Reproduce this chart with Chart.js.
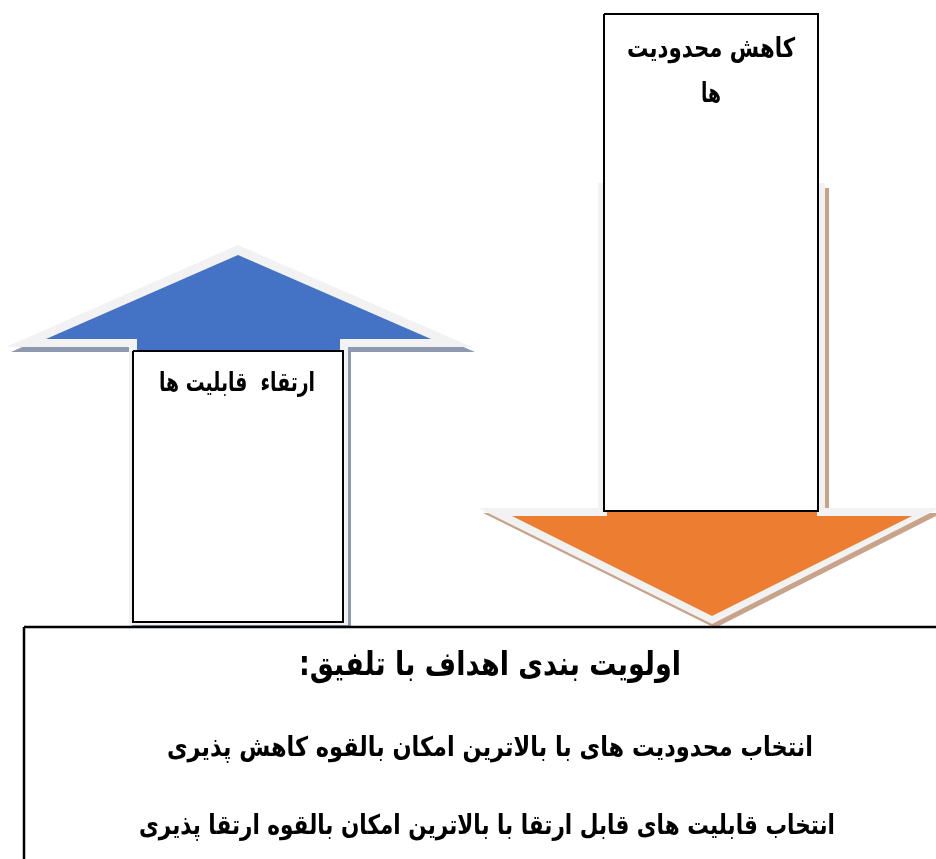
<!DOCTYPE html>
<html>
<head>
<meta charset="utf-8">
<script src="https://cdn.jsdelivr.net/npm/chart.js@4.4.0/dist/chart.umd.min.js"></script>
<style>
  html, body { margin: 0; padding: 0; background: #fff; }
  #wrap { width: 936px; height: 859px; }
</style>
</head>
<body>
<div id="wrap"><canvas id="diagram" width="936" height="859"></canvas></div>
<script>
// shapes of the diagram, in page units (x right, y down)
const upArrowShadow = [[241,250],[475,352],[351,352],[351,628],[132,628],[132,352],[11,352]];
const upArrowOutline = [[238,245],[472,347],[348,347],[348,625],[129,625],[129,347],[6,347]];
const upArrowFill = [[238,255],[431,339],[340,339],[340,420],[137,420],[137,339],[46,339]];
const upArrowBox = [[133,351],[343,351],[343,622],[133,622]];

const downArrowShadow = [[601,188],[829,188],[829,513],[942,513],[715,628],[483,513],[601,513]];
const downArrowOutline = [[598,183],[825,183],[825,508],[940,508],[712,624],[478,508],[598,508]];
const downArrowFill = [[607,480],[817,480],[817,516],[912,516],[712,616],[512,516],[607,516]];
const downArrowBox = [[604,14],[818,14],[818,511],[604,511]];

const goalBox = [[24,627],[945,627],[945,870],[24,870]];

// texts
const downLabel = ['کاهش محدودیت', 'ها'];
const upLabel = ['ارتقاء  قابلیت ها'];
const goalTitle = 'اولویت بندی اهداف با تلفیق:';
const goalLines = [
  'انتخاب محدودیت های با بالاترین امکان بالقوه کاهش پذیری',
  'انتخاب قابلیت های قابل ارتقا با بالاترین امکان بالقوه ارتقا پذیری'
];

const toPoints = (arr) => {
  const pts = arr.map(p => ({x: p[0], y: p[1]}));
  pts.push({x: arr[0][0], y: arr[0][1]});
  return pts;
};

const shape = (arr, fillColor, border, bw) => ({
  data: toPoints(arr),
  showLine: true,
  fill: 'shape',
  backgroundColor: fillColor,
  borderColor: border ? border : fillColor,
  borderWidth: border ? (bw || 2) : 0,
  borderJoinStyle: 'miter',
  pointRadius: 0,
  tension: 0,
  clip: false
});

// listed from back to front
const layers = [
  shape(upArrowShadow, '#8e9ab0'),
  shape(upArrowOutline, '#f2f2f2'),
  shape(upArrowFill, '#4472c4'),
  shape(upArrowBox, '#ffffff', '#000000'),
  shape(downArrowShadow, '#c9a389'),
  shape(downArrowOutline, '#f2f2f2'),
  shape(downArrowFill, '#ed7d31'),
  shape(downArrowBox, '#ffffff', '#000000'),
  shape(goalBox, '#ffffff', '#000000', 2.5)
];
layers.forEach((d, i) => { d.order = layers.length - i; });

// text anchors: [text, x, y, size, maxWidth]
const textItems = [
  [downLabel[0], 711, 50, 27, 168],
  [downLabel[1], 711, 95, 27, 20],
  [upLabel[0], 237, 384, 26, 156],
  [goalTitle, 490, 666, 33, 382],
  [goalLines[0], 490, 749, 27, 646],
  [goalLines[1], 487, 827, 27, 696]
];

const textPlugin = {
  id: 'diagramText',
  afterDraw(chart) {
    const ctx = chart.ctx;
    const xs = chart.scales.x, ys = chart.scales.y;
    ctx.save();
    ctx.fillStyle = '#000';
    ctx.direction = 'rtl';
    ctx.textAlign = 'center';
    ctx.textBaseline = 'middle';
    textItems.forEach(t => {
      ctx.font = 'bold ' + t[3] + 'px "DejaVu Sans"';
      ctx.fillText(t[0], xs.getPixelForValue(t[1]), ys.getPixelForValue(t[2]), t[4]);
    });
    ctx.restore();
  }
};

new Chart(document.getElementById('diagram'), {
  type: 'scatter',
  data: { datasets: layers },
  options: {
    responsive: false,
    animation: false,
    devicePixelRatio: 1,
    layout: { padding: 0 },
    plugins: { legend: { display: false }, tooltip: { enabled: false } },
    scales: {
      x: { type: 'linear', min: 0, max: 936, display: false },
      y: { type: 'linear', min: 0, max: 859, reverse: true, display: false }
    }
  },
  plugins: [textPlugin]
});
</script>
</body>
</html>
